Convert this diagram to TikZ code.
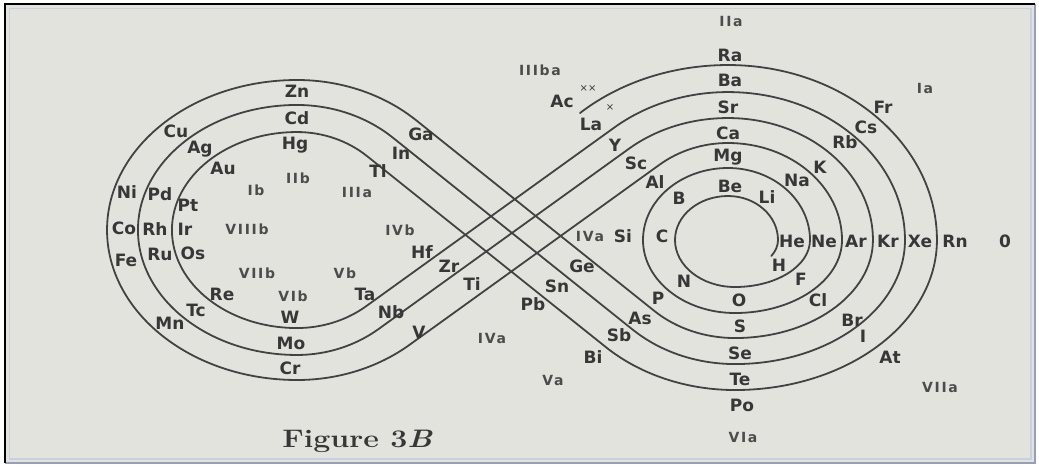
\documentclass[tikz,border=0pt]{standalone}
\usepackage{fontspec}
\newfontfamily\elfont{DejaVu Sans}
\newfontfamily\grpfont[LetterSpace=12]{DejaVu Sans}
\definecolor{paper}{RGB}{227,227,222}
\definecolor{ink}{RGB}{55,55,55}
\definecolor{ln}{RGB}{66,66,66}
\definecolor{frameb}{RGB}{150,160,185}
\definecolor{framel}{RGB}{200,208,225}
\begin{document}
\begin{tikzpicture}[x=0.75pt,y=-0.75pt,
  el/.style={font=\elfont\bfseries\fontsize{12.75}{13}\selectfont,text=ink,inner sep=0pt},
  grp/.style={font=\grpfont\bfseries\fontsize{10.5}{11}\selectfont,text=ink!88!paper,inner sep=0pt},
  sup/.style={font=\elfont\fontsize{7.5}{7.5}\selectfont,text=ink,inner sep=0pt},
  ring/.style={draw=ln,line width=1.35pt,line cap=round,line join=round}]
\useasboundingbox (0,0) rectangle (1039,469);
\fill[white] (0,0) rectangle (1039,469);
\fill[paper] (6,5) rectangle (1034,462);
\draw[framel,line width=0.9pt] (9.5,8.5) rectangle (1031,459);
\draw[frameb,line width=1.5pt] (5,463) -- (1035,463) -- (1035,4);
\draw[black,line width=1.5pt] (5,463) -- (5,4) -- (1035,4);

% the continuous spiral, from H to Ac
\draw[ring] (771.3,256)
  arc[start angle=30,end angle=0,x radius=50,y radius=32]
  arc[start angle=0,end angle=-90,x radius=50,y radius=44]
  arc[start angle=-90,end angle=-180,x radius=53,y radius=44]
  arc[start angle=180,end angle=90,x radius=60,y radius=47]
  arc[start angle=90,end angle=0,x radius=75,y radius=47]
  arc[start angle=0,end angle=-90,x radius=82,y radius=72]
  arc[start angle=-90,end angle=-180,x radius=85,y radius=72]
  arc[start angle=180,end angle=90,x radius=92,y radius=73]
  arc[start angle=90,end angle=0,x radius=107,y radius=73]
  arc[start angle=0,end angle=-90,x radius=114,y radius=97]
  arc[start angle=-90,end angle=-128.9,x radius=108.6,y radius=97]
  -- (409.4,344.9)
  arc[start angle=50,end angle=90,x radius=174.8,y radius=150]
  arc[start angle=90,end angle=180,x radius=190,y radius=150]
  arc[start angle=180,end angle=270,x radius=190,y radius=150]
  arc[start angle=270,end angle=313,x radius=174.7,y radius=150]
  -- (654.4,311)
  arc[start angle=133.6,end angle=90,x radius=116.8,y radius=98]
  arc[start angle=90,end angle=0,x radius=138,y radius=98]
  arc[start angle=0,end angle=-90,x radius=145,y radius=122]
  arc[start angle=-90,end angle=-131.4,x radius=149.3,y radius=122]
  -- (378.6,329)
  arc[start angle=52.4,end angle=90,x radius=133.8,y radius=125]
  arc[start angle=90,end angle=180,x radius=159,y radius=125]
  arc[start angle=180,end angle=270,x radius=159,y radius=125]
  arc[start angle=270,end angle=312.3,x radius=142.2,y radius=125]
  -- (632.8,329.7)
  arc[start angle=133.7,end angle=90,x radius=147.9,y radius=124]
  arc[start angle=90,end angle=0,x radius=170,y radius=124]
  arc[start angle=0,end angle=-90,x radius=177,y radius=148]
  arc[start angle=-90,end angle=-130.4,x radius=175,y radius=148]
  -- (366,306.3)
  arc[start angle=51.1,end angle=90,x radius=110,y radius=98]
  arc[start angle=90,end angle=180,x radius=125,y radius=98]
  arc[start angle=180,end angle=270,x radius=125,y radius=98]
  arc[start angle=270,end angle=311.1,x radius=106.8,y radius=98]
  -- (605.7,347)
  arc[start angle=134.5,end angle=90,x radius=184.4,y radius=150]
  arc[start angle=90,end angle=0,x radius=202,y radius=150]
  arc[start angle=0,end angle=-90,x radius=209,y radius=175]
  arc[start angle=-90,end angle=-133.5,x radius=215,y radius=175];

% element labels
\node[el] (Zn) at (297,91) {Zn};
\node[el] (Cd) at (297,118) {Cd};
\node[el] (Hg) at (295,145) {Hg};
\node[el] (Cu) at (176,131) {Cu};
\node[el] (Ag) at (200,149) {Ag};
\node[el] (Au) at (223,168) {Au};
\node[el] (Ni) at (127,192) {Ni};
\node[el] (Pd) at (160,194) {Pd};
\node[el] (Pt) at (188,205) {Pt};
\node[el] (Co) at (124,228) {Co};
\node[el] (Rh) at (155,229) {Rh};
\node[el] (Ir) at (185,229) {Ir};
\node[el] (Fe) at (126,260) {Fe};
\node[el] (Ru) at (160,254) {Ru};
\node[el] (Os) at (193,253) {Os};
\node[el] (Mn) at (170,323) {Mn};
\node[el] (Tc) at (196,310) {Tc};
\node[el] (Re) at (222,294) {Re};
\node[el] (Cr) at (290,368) {Cr};
\node[el] (Mo) at (291,343) {Mo};
\node[el] (W) at (290,317) {W};
\node[el] (Ga) at (421,134) {Ga};
\node[el] (In) at (401,153) {In};
\node[el] (Tl) at (378,171) {Tl};
\node[el] (Hf) at (422,252) {Hf};
\node[el] (Zr) at (449,266) {Zr};
\node[el] (Ti) at (472,284) {Ti};
\node[el] (Ta) at (365,294) {Ta};
\node[el] (Nb) at (391,312) {Nb};
\node[el] (V) at (419,332) {V};
\node[el] (Ge) at (582,266) {Ge};
\node[el] (Sn) at (557,286) {Sn};
\node[el] (Pb) at (533,304) {Pb};
\node[el] (As) at (640,318) {As};
\node[el] (Sb) at (619,335) {Sb};
\node[el] (Bi) at (593,357) {Bi};
\node[el] (Ac) at (562,101) {Ac};
\node[sup] (Acx) at (588,89) {××};
\node[el] (La) at (591,124) {La};
\node[sup] (Lax) at (610,108) {×};
\node[el] (Y) at (615,145) {Y};
\node[el] (Sc) at (636,163) {Sc};
\node[el] (Al) at (655,182) {Al};
\node[el] (B) at (679,198) {B};
\node[el] (Si) at (623,236) {Si};
\node[el] (C) at (662,236) {C};
\node[el] (N) at (684,281) {N};
\node[el] (P) at (658,298) {P};
\node[el] (Ra) at (730,55) {Ra};
\node[el] (Ba) at (730,80) {Ba};
\node[el] (Sr) at (728,107) {Sr};
\node[el] (Ca) at (728,133) {Ca};
\node[el] (Mg) at (728,157) {Mg};
\node[el] (Be) at (730,186) {Be};
\node[el] (Li) at (767,197) {Li};
\node[el] (Na) at (797,180) {Na};
\node[el] (K) at (820,167) {K};
\node[el] (Rb) at (845,142) {Rb};
\node[el] (Cs) at (866,127) {Cs};
\node[el] (Fr) at (883,107) {Fr};
\node[el] (He) at (792,241) {He};
\node[el] (Ne) at (824,241) {Ne};
\node[el] (Ar) at (856,241) {Ar};
\node[el] (Kr) at (888,241) {Kr};
\node[el] (Xe) at (920,241) {Xe};
\node[el] (Rn) at (955,241) {Rn};
\node[el] (H) at (779,265) {H};
\node[el] (F) at (801,279) {F};
\node[el] (Cl) at (818,300) {Cl};
\node[el] (Br) at (852,320) {Br};
\node[el] (I) at (863,336) {I};
\node[el] (At) at (890,357) {At};
\node[el] (Ox) at (739,300) {O};
\node[el] (S) at (740,326) {S};
\node[el] (Se) at (740,353) {Se};
\node[el] (Te) at (740,379) {Te};
\node[el] (Po) at (742,405) {Po};

% group labels
\node[grp] (gIIa) at (731,21) {IIa};
\node[grp] (gIIIba) at (540,70) {IIIba};
\node[grp] (gIa) at (925,88) {Ia};
\node[grp] (gIb) at (256,190) {Ib};
\node[grp] (gIIb) at (298,178) {IIb};
\node[grp] (gIIIa) at (357,192) {IIIa};
\node[grp] (gVIIIb) at (247,229) {VIIIb};
\node[grp] (gIVb) at (400,230) {IVb};
\node[grp] (gVIIb) at (257,273) {VIIb};
\node[grp] (gVb) at (345,273) {Vb};
\node[grp] (gVIb) at (293,296) {VIb};
\node[grp] (gIVa) at (590,236) {IVa};
\node[grp] (gIVaa) at (492,338) {IVa};
\node[grp] (gVa) at (553,380) {Va};
\node[grp] (gVIa) at (743,437) {VIa};
\node[grp] (gVIIa) at (940,387) {VIIa};
\node[el] (g0) at (1005,241) {0};

\node[anchor=base west,inner sep=0pt,text=ink] (fig) at (282,447)
  {\scalebox{1.2}[1]{\fontsize{19}{19}\selectfont\bfseries Figure 3\textit{B}}};
\end{tikzpicture}
\end{document}
